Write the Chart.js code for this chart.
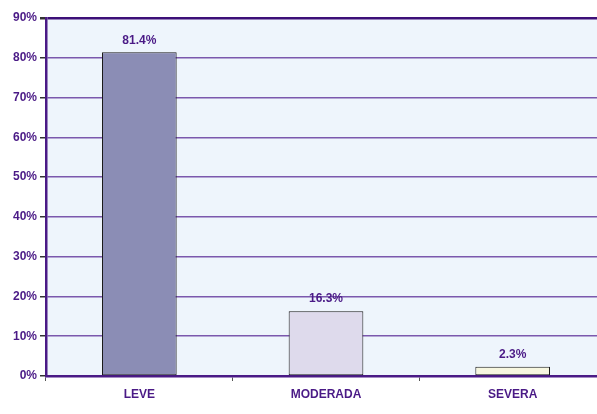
<!DOCTYPE html>
<html>
<head>
<meta charset="utf-8">
<script src="https://cdn.jsdelivr.net/npm/chart.js@4"></script>
<style>
  html, body { margin: 0; padding: 0; background: #ffffff; overflow: hidden; }
  #wrap { width: 597px; height: 414px; overflow: hidden; }
</style>
</head>
<body>
<div id="wrap"><canvas id="severityChart" width="606" height="414"></canvas></div>
<script>
// datos
const categories = ['LEVE', 'MODERADA', 'SEVERA'];
const percentValues = [81.4, 16.3, 2.3];
const barColors = ['#8b8db5', '#dedaec', '#f7f7e0'];
const yTicks = [0, 10, 20, 30, 40, 50, 60, 70, 80, 90];

const TEXT_COLOR = '#4a1a86';
const GRID_COLOR = '#7b58ad';
const FONT = 'Arial, "Liberation Sans", sans-serif';

// fondo del area del grafico
const plotBackground = {
    id: 'plotBackground',
    beforeDraw(chart) {
        const { ctx, chartArea } = chart;
        ctx.save();
        ctx.fillStyle = '#eef5fc';
        ctx.fillRect(chartArea.left, chartArea.top, chartArea.right - chartArea.left, chartArea.bottom - chartArea.top);
        ctx.restore();
    }
};

// etiquetas encima de las barras
const valueLabels = {
    id: 'valueLabels',
    afterDatasetsDraw(chart) {
        const { ctx } = chart;
        const meta = chart.getDatasetMeta(0);
        ctx.save();
        ctx.fillStyle = TEXT_COLOR;
        ctx.font = 'bold 12px ' + FONT;
        ctx.textAlign = 'center';
        ctx.textBaseline = 'bottom';
        meta.data.forEach((bar, i) => {
            ctx.fillText(percentValues[i].toFixed(1) + '%', bar.x, bar.y - 6);
        });
        ctx.restore();
    }
};

let ctx = document.getElementById('severityChart').getContext('2d');
let severityChart = new Chart(ctx, {
    type: 'bar',
    data: {
        labels: categories,
        datasets: [{
            data: percentValues,
            backgroundColor: barColors,
            borderColor: '#1a1a1a',
            borderWidth: 1,
            borderSkipped: false,
            categoryPercentage: 1.0,
            barPercentage: 0.40
        }]
    },
    options: {
        responsive: false,
        animation: false,
        layout: { padding: { top: 18, right: 0, left: 0, bottom: 0 } },
        plugins: {
            legend: { display: false },
            tooltip: { enabled: false }
        },
        scales: {
            x: {
                grid: {
                    offset: true,
                    drawOnChartArea: false,
                    tickLength: 5,
                    color: '#555555'
                },
                border: { color: '#4a1a86', width: 2.5 },
                ticks: {
                    color: TEXT_COLOR,
                    font: { family: FONT, size: 12, weight: 'bold' },
                    padding: 6
                },
                afterFit(scale) { scale.height = 38; }
            },
            y: {
                min: 0,
                max: 90,
                afterBuildTicks(scale) {
                    scale.ticks = yTicks.map(v => ({ value: v }));
                },
                grid: {
                    color: (c) => c.tick && c.tick.value === 90 ? '#3d0f78' : GRID_COLOR,
                    lineWidth: (c) => c.tick && c.tick.value === 90 ? 2.5 : 1.5,
                    tickLength: 6,
                    tickColor: '#333333'
                },
                border: { color: '#4a1a86', width: 2.5 },
                ticks: {
                    color: TEXT_COLOR,
                    font: { family: FONT, size: 12, weight: 'bold' },
                    padding: 3,
                    callback: (v) => v + '%'
                },
                afterFit(scale) { scale.width = 46; }
            }
        }
    },
    plugins: [plotBackground, valueLabels]
});
</script>
</body>
</html>
